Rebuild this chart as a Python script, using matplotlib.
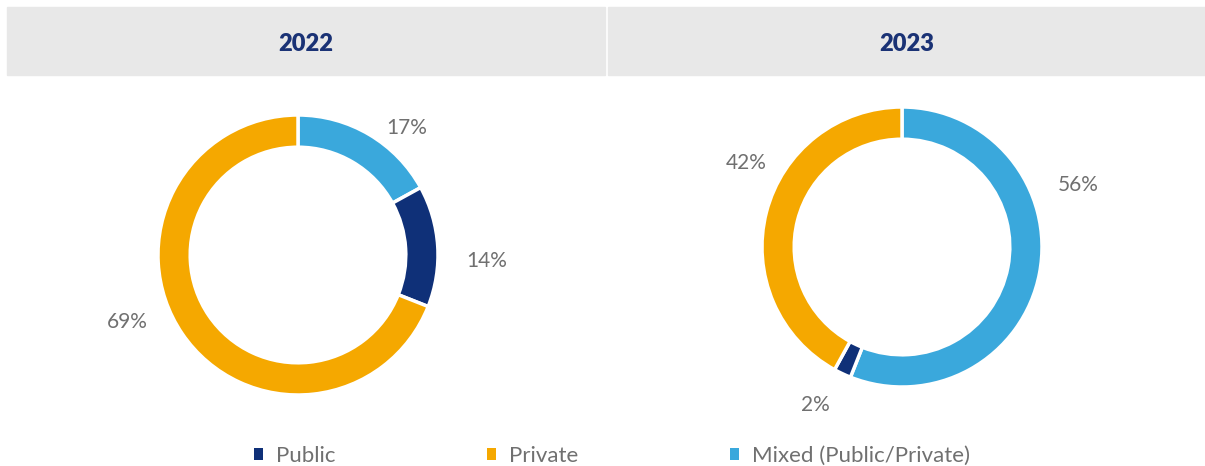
import numpy as np
import matplotlib.pyplot as plt
from matplotlib.patches import Rectangle, Patch

plt.rcParams['font.family'] = ['Lato', 'DejaVu Sans']

years = ["2022", "2023"]
categories = ["Public", "Private", "Mixed (Public/Private)"]
colors = ["#0f3078", "#f5a800", "#3aa8dc"]

# shares per year, in legend order
share_2022 = [14, 69, 17]
share_2023 = [2, 42, 56]

# where the labels sit (pie units, radius = 1)
label_pos_2022 = [(1.35, -0.04), (-1.22, -0.48), (0.78, 0.91)]
label_pos_2023 = [(-0.62, -1.13), (-1.11, 0.60), (1.26, 0.44)]

W, H = 1205, 466
fig = plt.figure(figsize=(W / 100, H / 100), dpi=100)

# grey header bars
for x0, x1, year in [(7, 605, years[0]), (608, 1205, years[1])]:
    fig.patches.append(Rectangle((x0 / W, (H - 75) / H), (x1 - x0) / W, 68 / H,
                                 transform=fig.transFigure, color="#e8e8e8", zorder=0))
    fig.text((x0 + x1) / 2 / W, (H - 44) / H, year, ha="center", va="center",
             fontsize=17, fontweight="heavy", color="#1a3275")

R = 140
centers = [(298, 255), (902, 247)]
data = [share_2022, share_2023]
labels = [label_pos_2022, label_pos_2023]

for (cx, cy), vals, lpos in zip(centers, data, labels):
    side = 3 * R
    ax = fig.add_axes([(cx - side / 2) / W, (H - cy - side / 2) / H, side / W, side / H])
    # draw clockwise from 12 o'clock: Mixed, Public, Private
    order = [2, 0, 1]
    ax.pie([vals[i] for i in order], colors=[colors[i] for i in order],
           startangle=90, counterclock=False, radius=1,
           wedgeprops=dict(width=0.23, edgecolor="white", linewidth=2.5))
    for v, (lx, ly) in zip(vals, lpos):
        ax.text(lx, ly, f"{v}%", ha="center", va="center", fontsize=15, color="#707070")
    ax.set_xlim(-1.5, 1.5)
    ax.set_ylim(-1.5, 1.5)
    ax.set_aspect("equal")
    ax.axis("off")

handles = [Patch(facecolor=c, edgecolor="none") for c in colors]
fig.legend(handles, categories, loc="center", bbox_to_anchor=(612 / W, 10 / H),
           ncol=3, frameon=False, fontsize=16, labelcolor="#707070",
           handlelength=0.42, handleheight=0.42, handletextpad=0.6, columnspacing=6.8,
           borderpad=0)

fig.savefig("out.png", dpi=100)
